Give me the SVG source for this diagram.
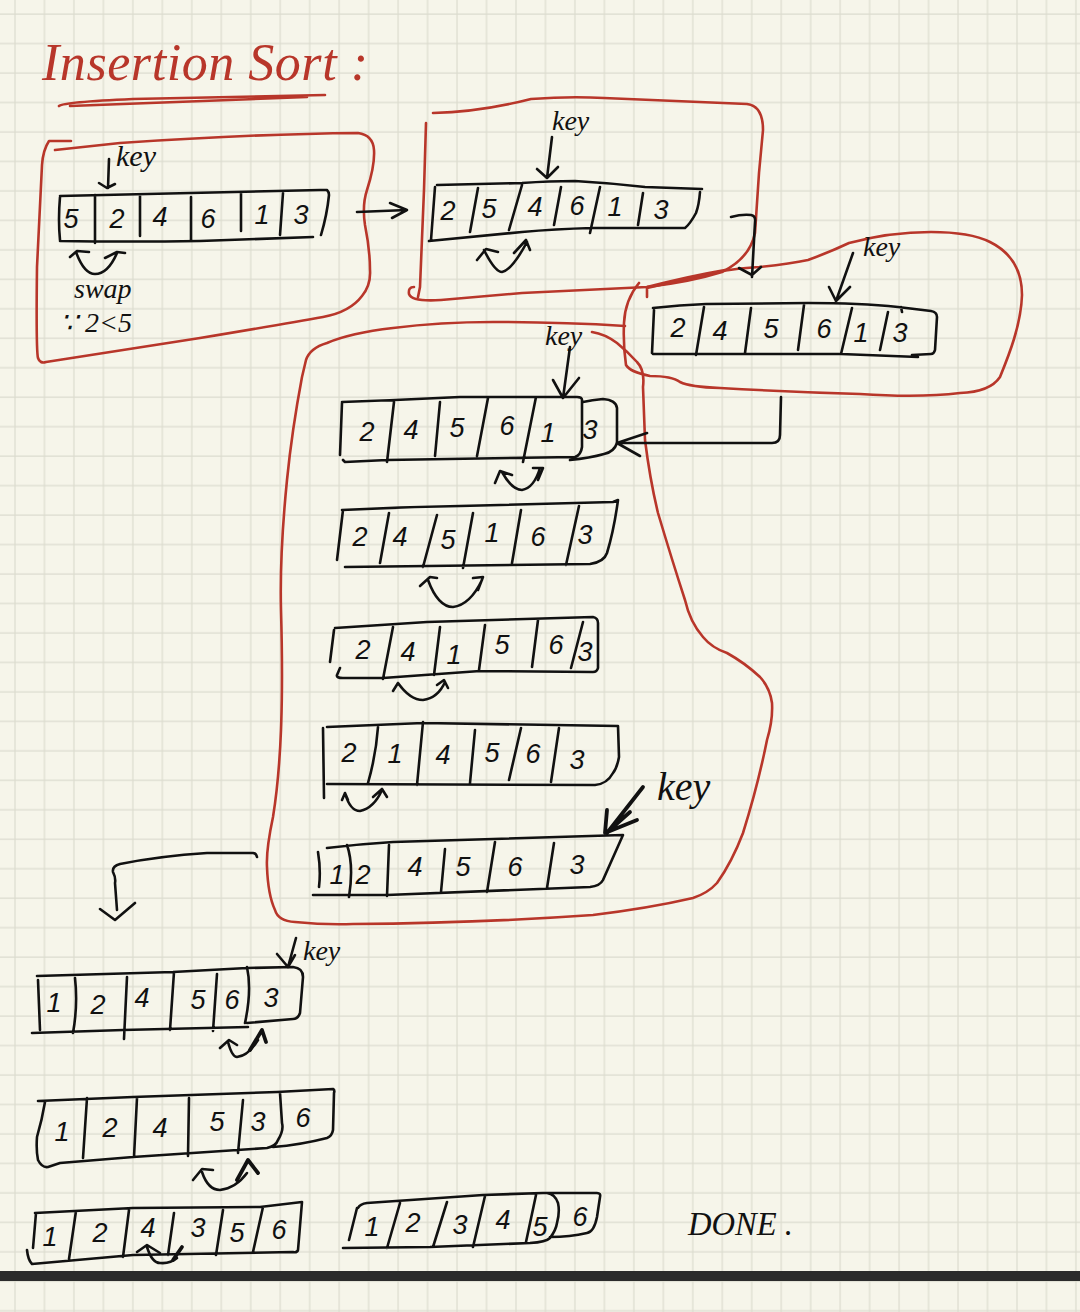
<svg xmlns="http://www.w3.org/2000/svg" width="1080" height="1312" viewBox="0 0 1080 1312">
<style>
.k{fill:none;stroke:#111;stroke-width:2.6;stroke-linecap:round;stroke-linejoin:round}
.h{fill:none;stroke:#111;stroke-width:3.8;stroke-linecap:round;stroke-linejoin:round}
.r{fill:none;stroke:#b8362a;stroke-width:2.6;stroke-linecap:round;stroke-linejoin:round}
.d{font-family:"Liberation Sans",sans-serif;font-style:italic;font-size:27px;fill:#111;text-anchor:middle}
.w{font-family:"Liberation Serif",serif;font-style:italic;font-size:28px;fill:#111}
</style>
<defs>
<pattern id="grid" width="29.47" height="29.47" patternUnits="userSpaceOnUse" patternTransform="translate(14 13)">
<path d="M1 0V29.47M0 1H29.47" fill="none" stroke="#dcdccf" stroke-width="1.2"/>
</pattern>
</defs>
<rect width="1080" height="1312" fill="#f6f5ea"/>
<rect width="1080" height="1312" fill="url(#grid)"/>
<rect x="0" y="1271" width="1080" height="10" fill="#2b2b2b"/>

<g id="title">
<text x="42" y="80" textLength="326" lengthAdjust="spacing" font-family="Liberation Serif, serif" font-style="italic" font-size="52" fill="#b8362a">Insertion Sort :</text>
<path class="r" d="M59 106Q64 102 133 99L325 95M70 106L307 97"/>
</g>

<g id="frame-1"><path class="r" d="M71 141L49 141Q43 150 42 165L37 267Q36 350 38 358Q40 364 46 362L200 338Q290 323 323 317Q350 312 362 296Q371 285 370 270Q370 250 365 225Q362 205 367 190Q375 165 374 150Q373 135 358 133Q250 134 120 143L55 150"/></g>
<g id="frame-2"><path class="r" d="M433 113Q480 112 531 99Q570 96 604 98L747 104Q763 106 763 130L759 173L755 233Q750 258 722 272Q690 282 647 287L522 293L441 300Q412 302 409 294Q408 287 414 287M426 123Q425 160 424 190L420 287L418 297"/></g>
<g id="frame-3"><path class="r" d="M647 297L647 288L722 271Q740 268 759 267Q790 264 808 260Q830 252 849 243Q890 232 931 232Q970 232 990 242Q1022 258 1022 295C1021 325 1009 355 1000 377Q990 392 960 393Q920 398 860 394Q790 392 720 388Q690 387 680 382Q672 376 650 376Q630 372 626 365Q623 345 624 323Q625 300 639 283M647 287Q690 276 725 270"/></g>
<g id="frame-4"><path class="r" d="M625 326Q560 322 493 322Q440 322 393 328Q350 333 327 343Q310 348 306 360L302 377Q292 430 287 480C282 530 280 570 281 610C283 680 282 700 281 730Q279 780 273 817Q266 850 267 867Q268 895 275 910Q278 921 295 922Q325 925 353 924Q480 923 593 915Q650 908 693 898Q708 893 717 883Q732 862 743 833Q758 785 767 740Q773 720 772 703Q770 688 760 677Q745 663 727 653Q712 648 703 637Q690 622 685 600Q672 560 658 513Q650 480 645 440L643 387Q645 370 637 362Q628 352 617 343Q605 334 592 332"/></g>

<g id="array-1">
<path class="k" d="M60 196Q195 193 320 190L327 190Q329 192 329 195Q327 215 321 235M60 241Q130 242 200 241L313 237M60 197Q58 220 60 240M95 195V243M140 195V236M191 197V240M241 192V231M283 193L280 235"/>
<text class="d" x="71" y="228">5</text><text class="d" x="117" y="228">2</text><text class="d" x="160" y="226">4</text><text class="d" x="208" y="228">6</text><text class="d" x="262" y="224">1</text><text class="d" x="301" y="224">3</text>
</g>
<g id="array-2">
<path class="k" d="M437 185Q480 184 522 183Q550 181 575 181Q610 183 645 187L702 189M700 192Q699 205 696 213Q690 224 685 228L592 228Q555 229 522 232L429 241M435 187L431 240M478 188L470 232M522 185L509 230M561 187L554 225M600 187L590 233M643 193L638 225"/>
<text class="d" x="448" y="220">2</text><text class="d" x="489" y="218">5</text><text class="d" x="535" y="216">4</text><text class="d" x="577" y="215">6</text><text class="d" x="615" y="216">1</text><text class="d" x="661" y="219">3</text>
</g>
<g id="array-3">
<path class="k" d="M653 308Q680 305 706 304L808 303Q860 303 898 307L931 311Q937 312 937 317L935 350Q934 354 931 354L912 355M918 357L841 354L653 354M654 310L652 353M704 307L696 355M751 308L745 353M804 305L798 350M852 308L841 354M888 312L880 350M901 307L902 312"/>
<text class="d" x="678" y="337">2</text><text class="d" x="720" y="340">4</text><text class="d" x="771" y="338">5</text><text class="d" x="824" y="338">6</text><text class="d" x="861" y="342">1</text><text class="d" x="900" y="342">3</text>
</g>
<g id="array-4">
<path class="k" d="M342 402Q400 400 460 397L577 397Q582 397 582 400L582 447Q581 455 575 457L387 460L345 462L343 460M342 403L340 455M394 402L387 462M440 402L435 456M488 398L477 456M536 397L523 462M583 402Q592 400 603 399Q616 400 617 408L617 443Q614 452 604 454Q590 458 570 460"/>
<text class="d" x="367" y="441">2</text><text class="d" x="411" y="439">4</text><text class="d" x="457" y="437">5</text><text class="d" x="507" y="435">6</text><text class="d" x="548" y="442">1</text><text class="d" x="590" y="439">3</text>
</g>
<g id="array-5">
<path class="k" d="M342 510Q400 507 460 506L613 502L618 500Q614 530 607 553Q604 562 590 564L345 567M343 510L337 560M389 513L380 563M437 515L423 567M473 513L463 568M521 510L512 563M579 506L566 565"/>
<text class="d" x="360" y="546">2</text><text class="d" x="400" y="546">4</text><text class="d" x="448" y="549">5</text><text class="d" x="492" y="542">1</text><text class="d" x="538" y="546">6</text><text class="d" x="585" y="544">3</text>
</g>
<g id="array-6">
<path class="k" d="M335 628L427 622L593 617Q598 618 598 623L598 668Q597 672 593 672L480 671L383 678L343 678Q336 678 337 675L340 668M334 630L330 662M393 627L383 679M440 627L434 675M485 625L479 670M538 620L532 667M583 622L571 668"/>
<text class="d" x="363" y="659">2</text><text class="d" x="408" y="661">4</text><text class="d" x="454" y="664">1</text><text class="d" x="502" y="654">5</text><text class="d" x="556" y="654">6</text><text class="d" x="585" y="661">3</text>
</g>
<g id="array-7">
<path class="k" d="M327 727L423 723L618 726L619 757Q617 768 613 773Q607 784 595 785L327 784M323 728L324 798M378 727Q376 755 368 783M423 722L417 785M475 730L470 783M521 728L509 780M559 728L551 782"/>
<text class="d" x="349" y="762">2</text><text class="d" x="395" y="763">1</text><text class="d" x="443" y="764">4</text><text class="d" x="492" y="762">5</text><text class="d" x="533" y="763">6</text><text class="d" x="577" y="769">3</text>
</g>
<g id="array-8">
<path class="k" d="M327 848Q360 844 393 842L623 835L603 880Q600 886 590 887L387 895L313 895M318 852Q321 870 319 887M347 845Q354 865 349 897M389 845L387 896M445 849L441 892M495 842L487 892M554 843L547 888"/>
<text class="d" x="337" y="884">1</text><text class="d" x="363" y="884">2</text><text class="d" x="415" y="876">4</text><text class="d" x="463" y="876">5</text><text class="d" x="515" y="876">6</text><text class="d" x="577" y="874">3</text>
</g>
<g id="array-9">
<path class="k" d="M37 976L173 972L247 968L293 967Q303 968 303 977L300 1013Q298 1019 293 1019L247 1023M38 980L40 1030M32 1033L123 1030L248 1027M75 978Q78 1005 73 1033M127 977L124 1039M174 972L170 1030M217 974L213 1031M247 967Q252 990 245 1023"/>
<text class="d" x="54" y="1012">1</text><text class="d" x="98" y="1014">2</text><text class="d" x="142" y="1007">4</text><text class="d" x="198" y="1009">5</text><text class="d" x="232" y="1009">6</text><text class="d" x="271" y="1007">3</text>
</g>
<g id="array-10">
<path class="k" d="M38 1101L133 1097L277 1092L333 1089Q335 1090 334 1093L333 1130Q332 1136 327 1138Q300 1145 273 1147M45 1102Q42 1120 37 1137Q36 1150 38 1160Q42 1168 48 1167L60 1163L133 1157L267 1148Q276 1146 278 1140Q284 1130 282 1123L280 1093M87 1098L83 1158M137 1098L134 1157M189 1098L188 1156M243 1100L238 1153"/>
<text class="d" x="62" y="1141">1</text><text class="d" x="110" y="1137">2</text><text class="d" x="160" y="1137">4</text><text class="d" x="217" y="1131">5</text><text class="d" x="258" y="1131">3</text><text class="d" x="303" y="1127">6</text>
</g>
<g id="array-11">
<path class="k" d="M35 1213L133 1208L260 1207L302 1202L298 1250Q297 1253 293 1252L133 1255L32 1264Q28 1260 27 1250M36 1213L33 1248M76 1211L69 1259M129 1210L123 1257M174 1213L168 1255M223 1210L216 1255M263 1207L253 1252"/>
<text class="d" x="50" y="1246">1</text><text class="d" x="100" y="1242">2</text><text class="d" x="148" y="1237">4</text><text class="d" x="198" y="1237">3</text><text class="d" x="237" y="1242">5</text><text class="d" x="279" y="1239">6</text>
</g>
<g id="array-12">
<path class="k" d="M358 1208Q360 1204 367 1203L483 1195L543 1193L597 1193Q601 1193 600 1197L597 1217Q594 1232 587 1233Q570 1237 550 1237M343 1248L430 1247L530 1243Q546 1242 550 1238Q556 1230 557 1223Q560 1212 558 1203Q555 1194 547 1193M357 1208L349 1240M400 1203L387 1248M447 1202L433 1247M485 1196L473 1247M536 1195L526 1242"/>
<text class="d" x="372" y="1236">1</text><text class="d" x="413" y="1232">2</text><text class="d" x="460" y="1234">3</text><text class="d" x="503" y="1229">4</text><text class="d" x="540" y="1236">5</text><text class="d" x="580" y="1226">6</text>
</g>

<g id="labels">
<text class="w" x="116" y="166" style="font-size:30px">key</text>
<text class="w" x="74" y="298">swap</text>
<text class="w" x="60" y="332">∵ 2&lt;5</text>
<text class="w" x="552" y="130">key</text>
<text class="w" x="863" y="256">key</text>
<text class="w" x="545" y="345">key</text>
<text class="w" x="657" y="800" style="font-size:40px">key</text>
<text class="w" x="303" y="960">key</text>
<text class="w" x="688" y="1235" style="font-size:34px" textLength="105" lengthAdjust="spacingAndGlyphs">DONE .</text>
</g>

<g id="connectors">
<path class="k" d="M357 212L407 210M390 203L407 210L392 218"/>
<path class="k" d="M731 217Q742 214 751 215Q756 216 755 222L752 277M739 268L752 275L761 267"/>
<path class="k" d="M781 397L780 435Q780 443 772 443L620 443M647 433L617 443L640 456"/>
<path class="k" d="M257 857Q256 853 253 853L207 853Q160 856 120 864Q112 866 113 872Q116 878 115 883L117 910M100 909L115 920L135 903"/>
<path class="k" d="M109 159L108 188M99 183L107 188L115 184"/>
<path class="k" d="M70 257L77 251L89 252M76 252Q84 274 95 274Q108 274 117 253M105 258L117 252L125 253"/>
<path class="k" d="M552 137L547 178M537 169L547 178L558 167"/>
<path class="k" d="M477 260L486 249L498 252M484 250Q495 272 502 272Q512 270 527 242M514 253L526 240L530 250"/>
<path class="k" d="M853 253L836 301M829 287L836 301L850 287"/>
<path class="k" d="M570 347L563 398M553 380L563 398L579 378"/>
<path class="k" d="M495 483L500 471L512 475M502 472Q512 490 522 490Q534 488 540 468M533 468L543 468L538 480"/>
<path class="k" d="M420 586L430 577L437 578M428 580Q438 607 453 607Q470 605 482 580M473 578L483 577L478 590"/>
<path class="k" d="M393 691L398 683L402 688M398 683Q410 700 423 700Q438 698 445 682M437 685L444 680L448 688"/>
<path class="k" d="M342 800L345 793L348 800M345 793Q350 811 360 811Q374 808 382 790M373 797L382 789L387 797"/>
<path class="h" d="M643 787L607 833M607 810L605 833L637 820M612 828L630 812"/>
<path class="k" d="M296 938L288 967M277 954L288 967L295 955"/>
<path class="k" d="M220 1048L229 1040L237 1045M228 1042Q232 1057 237 1057Q248 1056 258 1040"/>
<path class="h" d="M250 1050L262 1030L266 1042"/>
<path class="k" d="M193 1180L202 1169L213 1170M202 1172Q208 1190 220 1190Q236 1188 247 1173"/>
<path class="h" d="M237 1180L248 1160L258 1173"/>
<path class="k" d="M137 1252L147 1245L160 1253M147 1247Q152 1263 160 1263Q170 1264 177 1258"/>
<path class="h" d="M173 1260L182 1247"/>
</g>
</svg>
